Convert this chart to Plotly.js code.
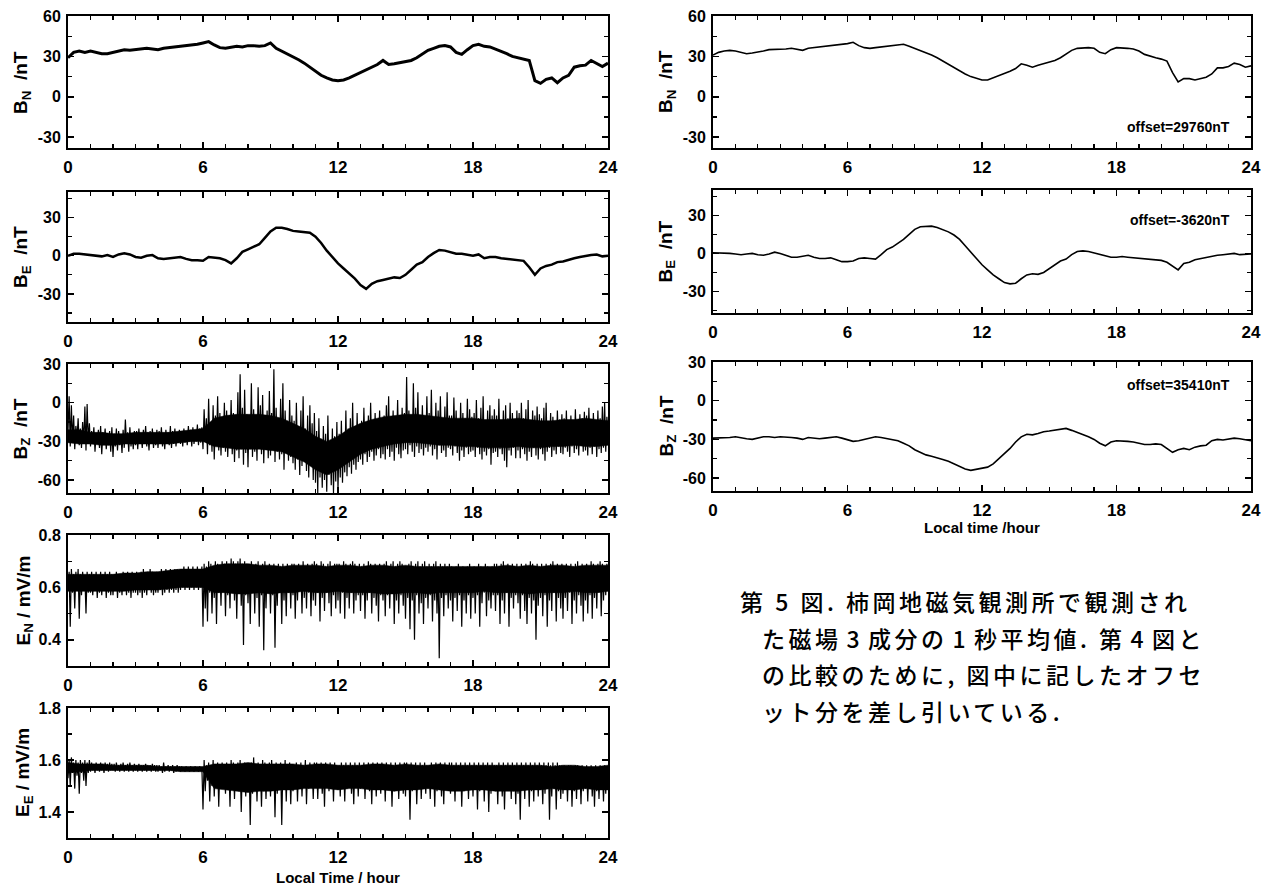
<!DOCTYPE html>
<html><head><meta charset="utf-8">
<script src="https://cdn.plot.ly/plotly-3.0.1.min.js"></script>
<style>
html,body{margin:0;padding:0;background:#fff;}
#chart{width:1273px;height:886px;}
.annotation-text[style*="CJK"]{letter-spacing:3.5px;}
</style>
</head><body><div id="chart"></div>
<script>
// ---------- tick labels ----------
const hourTicks = [0, 6, 12, 18, 24];
const hourLabels = ['0', '6', '12', '18', '24'];
const bnTicks = [-30, 0, 30, 60];
const bnLabels = ['-30', '0', '30', '60'];
const beTicks = [-30, 0, 30];
const beLabels = ['-30', '0', '30'];
const bzTicks = [-60, -30, 0, 30];
const bzLabels = ['-60', '-30', '0', '30'];
const eyTicks = [0.4, 0.6, 0.8];
const eyLabels = ['0.4', '0.6', '0.8'];
const eeTicks = [1.4, 1.6, 1.8];
const eeLabels = ['1.4', '1.6', '1.8'];

// ---------- smooth series, sampled every 0.25 h (0 .. 24) ----------
const bnLeft = [
 29,33,34,33, 34,33,32,32, 33,34,35,34.5, 35,35.5,36,35.5, 35,36,36.5,37, 37,37.5,38,39,
 40,41,38.5,36.5, 36,37,37.5,37, 38,38,37.5,38, 40,36,34,32, 30,27.5,25,22, 19,16,14,12.5,
 12,12.5,14,16, 17.5,19.5,21.5,24, 27,24,24.5,25.5, 26,27,29,32, 34.5,36,37.5,38, 37,33,31.5,35,
 38,39,37.5,37, 35.5,34,32,30, 29,28.5,27,12, 10,13,14,10.5, 14,16,22,23, 23.5,27,25,22.5, 25];
const beLeft = [
 0,1.5,1.5,1, 1,0,-0.5,0.5, -1,1,2,1, -1,-1.5,0,0.5, -2,-2.5,-2,-1, -1,-2.5,-3.5,-3.5,
 -4,-1,-1.5,-2, -3.5,-6,-2,3, 5,7,9,14, 19,22,22,21, 19.5,19,18.5,18, 15,10,4,-1,
 -6,-10,-14,-18, -23,-26,-22,-20, -19,-18,-17,-17.5, -15,-11,-7,-5, -1,2,4.5,4, 3,1.5,1.5,0.5,
 0,1,-2,-1, -1,-2,-2.5,-2.5, -3.5,-4,-9,-15, -10,-8,-7,-5, -4.5,-3,-2,-1, 0,0.5,1,-0.5, 0];
const bnRight = [
 31,33,34,34.5, 34,33,32,32.5, 33,34,35,35, 35.5,35.5,36,35.5, 34.5,36,36.5,36.5, 37,37.5,38,39,
 39.5,40.5,38,36.5, 36,36.5,37,37.5, 38,38.5,39,37.5, 36,34.5,33,31, 29,26.5,24,21.5, 19,17,15,13.5,
 12.5,12.5,14,16, 17.5,19,21,24.5, 23.5,22,23.5,24.5, 25.5,27,29,32, 34.5,36,36.5,36.5, 36,33,32,35,
 36.5,36.5,36,35.5, 34,31.5,30,29, 28,26.5,18,11, 13.5,13.5,12.5,13.5, 14.5,17,21.5,21.5, 22.5,25,24,22, 23];
const beRight = [
 0.5,0.5,0.5,0, -0.5,-1,-0.5,0, -1,-1.5,-0.5,1, 0,-1.5,-3,-3, -2,-1.5,-3,-4, -4,-3.5,-5,-6.5,
 -6.5,-6,-4,-3.5, -4,-4.5,-1,3, 5,8,11,15, 19,21,21.5,21.5, 20.5,19,17,14.5, 11,6,1,-4,
 -9,-13,-17,-20, -23,-24,-23.5,-20, -17,-16,-16.5,-15, -12,-9,-6,-4.5, -1,1.5,2,1.5, 0.5,-0.5,-2,-3,
 -3,-2.5,-3,-3.5, -3.5,-4.5,-4.5,-5, -5.5,-7,-10,-13, -8,-7,-5,-4, -3.5,-2.5,-1.5,-1, -0.5,0,-1,-0.5, -0.5];
const bzRight = [
 -29,-29,-28.5,-28.5, -28,-29,-29.5,-30, -29,-28,-28,-28.5, -28,-28,-28.5,-29, -30,-28.5,-29,-29.5, -29,-28.5,-28,-29,
 -30,-31.5,-31,-30, -29,-28,-28.5,-29.5, -30,-31,-33,-35, -38,-40,-42,-43, -44,-45.5,-47,-49, -51,-53,-54,-53,
 -52.5,-51.5,-49,-45, -41,-37,-32,-28, -26,-26.5,-25.5,-24, -23.5,-23,-22.5,-21.5, -23,-24.5,-26,-28, -30,-33,-35,-32,
 -31,-31,-31.5,-32, -33,-34,-34,-33.5, -34,-37,-40,-38, -37,-38,-36,-35, -34.5,-31,-30,-30.5, -30,-29,-29.5,-30, -31];

// ---------- noisy series, every 0.05 h, alternating trough / crest (one row per hour) ----------
const bzLeft = [
 -22,5,-34,-2,-30,-10,-36,-18,-28,-12,-33,-20,-35,-15,-31,-3,-37,-1,-30,-16,
 -34,-22,-30,-19,-38,-24,-32,-21,-35,-18,-40,-23,-31,-20,-36,-25,-33,-22,-38,-19,
 -42,-24,-34,-20,-37,-22,-33,-25,-39,-21,-35,-13,-31,-23,-38,-19,-34,-24,-36,-22,
 -33,-22,-36,-20,-32,-24,-35,-21,-31,-18,-34,-23,-37,-22,-32,-20,-35,-25,-33,-21,
 -35,-22,-32,-19,-34,-24,-36,-21,-31,-23,-33,-18,-35,-22,-32,-20,-34,-24,-31,-21,
 -32,-22,-34,-20,-31,-23,-33,-18,-30,-21,-34,-19,-32,-24,-30,-17,-33,-20,-31,-19,
 -36,-5,-30,-12,-40,3,-33,-15,-38,-2,-44,-10,-32,5,-37,-8,-41,-14,-35,0,
 -38,-6,-42,-12,-35,2,-40,-8,-46,-15,-37,8,-43,22,-36,-4,-48,10,-39,-9,
 -50,-10,-36,15,-42,-5,-38,-14,-45,12,-34,-2,-40,6,-47,-12,-36,-6,-43,9,
 -41,-8,-35,26,-46,-4,-38,-12,-44,3,-40,15,-52,-6,-37,-14,-45,2,-42,-10,
 -47,-14,-52,0,-44,-18,-56,-6,-49,5,-45,-20,-53,-10,-58,-2,-48,-16,-60,-8,
 -62,-22,-70,-12,-58,-28,-66,-18,-60,-24,-69,-10,-56,-30,-64,-20,-70,-26,-61,-15,
 -68,-24,-58,-14,-62,-28,-54,-6,-57,-20,-50,-12,-55,0,-48,-18,-52,-8,-46,-22,
 -44,-14,-48,-4,-40,-18,-46,-10,-42,0,-38,-16,-45,-8,-41,-20,-36,-6,-43,-12,
 -40,-10,-44,-2,-36,5,-42,-14,-38,-6,-45,-12,-35,2,-40,-16,-43,-4,-37,-8,
 -36,20,-40,-6,-33,-12,-38,15,-42,-4,-34,8,-39,-10,-36,-2,-41,-14,-35,5,
 -38,-8,-34,10,-41,-12,-36,0,-44,-6,-33,5,-39,-14,-37,-3,-42,8,-35,-10,
 -36,-10,-41,4,-34,-6,-39,-14,-45,0,-37,-8,-42,-12,-35,3,-40,-5,-38,-11,
 -37,-8,-42,2,-35,-12,-40,-4,-44,5,-38,-14,-41,-6,-36,-2,-48,-10,-39,-5,
 -38,-10,-42,3,-36,-14,-40,-6,-45,-2,-50,-12,-37,0,-41,-8,-35,-13,-43,-6,
 -37,-8,-43,0,-36,-12,-40,-5,-45,2,-38,-14,-42,-6,-35,-10,-41,-3,-44,-9,
 -36,-12,-40,-4,-45,0,-38,-15,-35,-8,-42,-11,-37,-16,-40,-6,-34,-13,-39,-9,
 -40,-12,-35,-6,-38,-16,-42,-10,-34,-14,-39,-5,-36,-18,-41,-9,-33,-12,-38,-7,
 -37,-10,-41,-4,-35,-14,-40,-8,-34,-16,-42,-6,-36,-12,-39,-3,-35,0,-38,-11,
 -24];
const eyLeft = [
 0.60,0.66,0.45,0.67,0.58,0.65,0.52,0.66,0.59,0.67,0.48,0.65,0.57,0.66,0.60,0.64,0.50,0.66,0.58,0.65,
 0.58,0.66,0.57,0.65,0.59,0.66,0.56,0.64,0.58,0.66,0.57,0.65,0.59,0.66,0.56,0.65,0.58,0.66,0.57,0.65,
 0.57,0.65,0.59,0.66,0.56,0.65,0.58,0.64,0.57,0.66,0.59,0.65,0.57,0.66,0.58,0.65,0.56,0.66,0.58,0.65,
 0.58,0.66,0.57,0.65,0.58,0.66,0.56,0.67,0.58,0.65,0.57,0.66,0.59,0.67,0.58,0.66,0.57,0.65,0.58,0.66,
 0.58,0.66,0.59,0.67,0.57,0.66,0.58,0.67,0.59,0.66,0.58,0.67,0.59,0.66,0.58,0.67,0.59,0.67,0.58,0.66,
 0.59,0.67,0.60,0.68,0.59,0.67,0.60,0.68,0.59,0.67,0.60,0.68,0.59,0.67,0.60,0.68,0.59,0.67,0.60,0.68,
 0.45,0.69,0.52,0.68,0.47,0.70,0.58,0.69,0.50,0.68,0.56,0.70,0.46,0.69,0.58,0.68,0.53,0.70,0.59,0.69,
 0.49,0.70,0.57,0.69,0.52,0.71,0.59,0.70,0.55,0.69,0.48,0.70,0.58,0.71,0.53,0.69,0.38,0.70,0.57,0.69,
 0.54,0.69,0.46,0.70,0.58,0.68,0.50,0.69,0.56,0.70,0.45,0.68,0.57,0.69,0.36,0.70,0.52,0.68,0.58,0.69,
 0.50,0.68,0.57,0.69,0.37,0.67,0.53,0.69,0.58,0.68,0.46,0.69,0.55,0.67,0.49,0.69,0.58,0.68,0.52,0.69,
 0.57,0.69,0.48,0.68,0.55,0.69,0.59,0.68,0.50,0.70,0.56,0.68,0.52,0.69,0.58,0.68,0.49,0.69,0.55,0.70,
 0.53,0.69,0.58,0.68,0.47,0.70,0.56,0.69,0.51,0.68,0.58,0.69,0.54,0.70,0.49,0.68,0.57,0.69,0.52,0.69,
 0.55,0.69,0.50,0.68,0.58,0.70,0.48,0.69,0.56,0.68,0.52,0.69,0.58,0.70,0.50,0.69,0.55,0.68,0.57,0.69,
 0.51,0.68,0.57,0.69,0.48,0.68,0.55,0.70,0.58,0.69,0.50,0.68,0.56,0.69,0.53,0.68,0.47,0.69,0.57,0.68,
 0.55,0.69,0.49,0.70,0.57,0.68,0.52,0.69,0.58,0.70,0.46,0.68,0.55,0.69,0.50,0.70,0.57,0.69,0.53,0.68,
 0.48,0.68,0.56,0.69,0.44,0.70,0.55,0.68,0.40,0.69,0.57,0.70,0.50,0.68,0.54,0.69,0.46,0.70,0.56,0.68,
 0.52,0.69,0.57,0.68,0.47,0.69,0.55,0.70,0.50,0.68,0.33,0.69,0.56,0.68,0.49,0.69,0.57,0.68,0.52,0.69,
 0.55,0.68,0.47,0.67,0.56,0.68,0.51,0.69,0.57,0.67,0.45,0.68,0.55,0.67,0.50,0.68,0.57,0.69,0.48,0.67,
 0.56,0.68,0.50,0.67,0.57,0.69,0.45,0.68,0.54,0.67,0.58,0.69,0.49,0.68,0.55,0.67,0.52,0.68,0.57,0.69,
 0.51,0.69,0.57,0.68,0.46,0.69,0.55,0.70,0.50,0.68,0.58,0.69,0.45,0.68,0.56,0.69,0.52,0.68,0.57,0.69,
 0.54,0.68,0.48,0.69,0.57,0.68,0.51,0.69,0.46,0.68,0.56,0.70,0.50,0.69,0.55,0.68,0.40,0.69,0.53,0.68,
 0.56,0.69,0.49,0.68,0.57,0.69,0.45,0.68,0.55,0.69,0.51,0.70,0.58,0.68,0.47,0.69,0.56,0.68,0.52,0.69,
 0.48,0.68,0.56,0.69,0.51,0.68,0.58,0.69,0.46,0.68,0.55,0.69,0.50,0.70,0.57,0.68,0.53,0.69,0.47,0.68,
 0.55,0.69,0.50,0.68,0.57,0.70,0.48,0.69,0.56,0.68,0.52,0.69,0.58,0.70,0.49,0.69,0.55,0.68,0.57,0.69,
 0.63];
const eeLeft = [
 1.53,1.60,1.50,1.61,1.55,1.59,1.49,1.60,1.54,1.59,1.47,1.60,1.55,1.59,1.52,1.60,1.50,1.59,1.55,1.60,
 1.555,1.59,1.56,1.585,1.55,1.59,1.56,1.58,1.555,1.59,1.56,1.585,1.55,1.59,1.56,1.585,1.555,1.59,1.56,1.585,
 1.56,1.585,1.555,1.59,1.56,1.58,1.555,1.585,1.56,1.59,1.555,1.58,1.56,1.585,1.555,1.59,1.56,1.58,1.555,1.585,
 1.56,1.58,1.555,1.585,1.56,1.58,1.555,1.58,1.56,1.585,1.555,1.58,1.56,1.58,1.555,1.585,1.56,1.58,1.555,1.58,
 1.555,1.58,1.56,1.575,1.55,1.59,1.555,1.575,1.56,1.58,1.555,1.575,1.56,1.58,1.55,1.575,1.555,1.58,1.56,1.575,
 1.555,1.575,1.56,1.57,1.555,1.575,1.56,1.57,1.555,1.575,1.56,1.57,1.555,1.575,1.56,1.57,1.555,1.575,1.56,1.57,
 1.41,1.60,1.48,1.58,1.52,1.59,1.44,1.58,1.50,1.60,1.46,1.58,1.53,1.59,1.42,1.58,1.49,1.59,1.51,1.58,
 1.47,1.59,1.52,1.58,1.42,1.60,1.50,1.59,1.45,1.58,1.51,1.59,1.48,1.60,1.40,1.58,1.50,1.59,1.46,1.58,
 1.49,1.58,1.35,1.59,1.47,1.61,1.51,1.58,1.44,1.59,1.50,1.58,1.42,1.60,1.48,1.59,1.45,1.58,1.51,1.59,
 1.46,1.60,1.50,1.58,1.38,1.59,1.47,1.58,1.52,1.59,1.35,1.58,1.49,1.60,1.44,1.58,1.50,1.59,1.43,1.58,
 1.48,1.58,1.51,1.59,1.44,1.58,1.50,1.59,1.46,1.58,1.52,1.60,1.43,1.58,1.49,1.59,1.51,1.58,1.45,1.59,
 1.50,1.59,1.45,1.58,1.51,1.59,1.47,1.58,1.42,1.59,1.50,1.58,1.48,1.59,1.52,1.58,1.44,1.59,1.49,1.58,
 1.51,1.58,1.46,1.59,1.50,1.58,1.44,1.59,1.49,1.58,1.52,1.59,1.47,1.58,1.43,1.59,1.50,1.58,1.46,1.59,
 1.49,1.58,1.52,1.59,1.45,1.58,1.50,1.59,1.48,1.58,1.43,1.59,1.51,1.58,1.46,1.59,1.50,1.58,1.47,1.59,
 1.50,1.58,1.44,1.59,1.49,1.58,1.51,1.59,1.42,1.58,1.48,1.59,1.50,1.58,1.45,1.59,1.51,1.58,1.47,1.59,
 1.46,1.59,1.50,1.58,1.37,1.59,1.48,1.58,1.51,1.59,1.43,1.58,1.49,1.59,1.45,1.58,1.50,1.59,1.47,1.58,
 1.49,1.58,1.45,1.59,1.51,1.58,1.42,1.59,1.48,1.58,1.50,1.59,1.46,1.58,1.43,1.59,1.49,1.58,1.51,1.59,
 1.47,1.59,1.50,1.58,1.44,1.59,1.49,1.58,1.52,1.59,1.42,1.58,1.48,1.59,1.50,1.58,1.45,1.59,1.49,1.58,
 1.46,1.59,1.50,1.58,1.41,1.59,1.48,1.58,1.51,1.59,1.44,1.58,1.49,1.59,1.40,1.58,1.47,1.59,1.50,1.58,
 1.48,1.58,1.43,1.59,1.50,1.58,1.46,1.59,1.41,1.58,1.49,1.59,1.51,1.58,1.45,1.59,1.48,1.58,1.43,1.59,
 1.47,1.58,1.37,1.59,1.49,1.58,1.45,1.59,1.50,1.58,1.42,1.59,1.48,1.58,1.44,1.59,1.50,1.58,1.46,1.59,
 1.49,1.58,1.43,1.59,1.47,1.58,1.50,1.59,1.37,1.58,1.46,1.59,1.49,1.58,1.41,1.59,1.48,1.58,1.45,1.58,
 1.47,1.58,1.50,1.57,1.44,1.58,1.49,1.58,1.42,1.57,1.48,1.58,1.45,1.58,1.50,1.57,1.43,1.58,1.48,1.57,
 1.49,1.58,1.44,1.57,1.50,1.58,1.46,1.57,1.42,1.58,1.48,1.57,1.45,1.58,1.50,1.57,1.44,1.58,1.47,1.57,
 1.53];

// dense core of the noisy series, every 0.5 h (0 .. 24)
const bzCoreLo = [-31,-32,-32,-33,-33,-32,-32,-32,-32,-32,-31,-30, -30,
 -34,-35,-36,-36,-36,-37,-38, -42,-46,-52,-56,-52, -46,-40,-36,-34, -32,-31,-31,-32, -33,-33,-34,-34,
 -35,-35,-35,-34, -35,-35,-34,-34, -33,-34,-34,-33];
const bzCoreHi = [-21,-21,-23,-23,-24,-24,-23,-23,-23,-23,-22,-21, -20,
 -12,-10,-9,-9,-9,-10,-12, -16,-20,-26,-30,-26, -20,-16,-13,-11, -10,-9,-9,-10, -11,-12,-12,-12,
 -13,-13,-13,-12, -13,-14,-14,-13, -13,-12,-13,-14];
const eyCoreLo = [0.585,0.585,0.585,0.585,0.585,0.585,0.59,0.59,0.59,0.595,0.60,0.60, 0.60,
 0.58,0.58,0.575,0.575,0.58,0.575,0.58,0.58,0.585,0.58,0.58,0.585,0.58,0.58,0.58,0.575,0.575,0.58,
 0.58,0.575,0.58,0.58,0.58,0.58,0.585,0.58,0.58,0.58,0.575,0.58,0.58,0.58,0.585,0.58,0.58,0.585];
const eyCoreHi = [0.65,0.65,0.65,0.65,0.65,0.655,0.655,0.66,0.66,0.665,0.67,0.67, 0.67,
 0.685,0.69,0.69,0.69,0.685,0.685,0.68,0.685,0.685,0.685,0.68,0.685,0.685,0.68,0.685,0.685,0.68,0.685,
 0.68,0.68,0.68,0.68,0.68,0.68,0.68,0.68,0.685,0.68,0.685,0.68,0.685,0.685,0.68,0.685,0.685,0.685];
const eeCoreLo = [1.55,1.555,1.56,1.56,1.56,1.56,1.56,1.56,1.56,1.56,1.555,1.555, 1.555,
 1.49,1.485,1.48,1.475,1.48,1.48,1.485,1.485,1.49,1.49,1.49,1.485,1.49,1.49,1.485,1.485,1.48,1.485,
 1.485,1.49,1.485,1.48,1.48,1.485,1.485,1.48,1.48,1.48,1.485,1.485,1.49,1.485,1.485,1.49,1.485,1.485];
const eeCoreHi = [1.59,1.585,1.585,1.585,1.58,1.58,1.58,1.58,1.575,1.575,1.575,1.575, 1.575,
 1.585,1.585,1.585,1.59,1.585,1.585,1.585,1.585,1.58,1.585,1.585,1.58,1.58,1.58,1.585,1.585,1.58,1.585,
 1.58,1.58,1.585,1.58,1.58,1.58,1.58,1.58,1.58,1.58,1.58,1.58,1.575,1.58,1.58,1.575,1.575,1.58];

// ---------- texts ----------
const yTitles = ['B<sub>N</sub>  /nT','B<sub>E</sub>  /nT','B<sub>Z</sub>  /nT','E<sub>N</sub> / mV/m','E<sub>E</sub> / mV/m','B<sub>N</sub>  /nT','B<sub>E</sub>  /nT','B<sub>Z</sub>  /nT'];
const offsetTexts = ['offset=29760nT','offset=-3620nT','offset=35410nT'];
const xTitleLeft = 'Local Time / hour';
const xTitleRight = 'Local time /hour';
const captionLines = [
 '第 5 図. 柿岡地磁気観測所で観測され',
 'た磁場\u200A3\u200A成分の\u200A1\u200A秒平均値. 第\u200A4\u200A図と',
 'の比較のために, 図中に記したオフセ',
 'ット分を差し引いている.'
];

// ---------- sampling grids ----------
const quarterHours = Array.from({length: 97}, (_, i) => i * 0.25);
const twentiethHours = Array.from({length: 481}, (_, i) => i / 20);
const halfHours = Array.from({length: 49}, (_, i) => i / 2);

// ---------- layout ----------
const W = 1273, H = 886;
const FONT = 'Liberation Sans, Arial, Helvetica, sans-serif';
const px = v => v / W;
const py = v => 1 - v / H;

const panels = [
 {x:[68,608],  y:[16,148],  r:[-38,60],  tv:bnTicks, tt:bnLabels, mn:15,  tx:22},
 {x:[68,608],  y:[192,322], r:[-52,50],  tv:beTicks, tt:beLabels, mn:15,  tx:22},
 {x:[68,608],  y:[364,493], r:[-70,30],  tv:bzTicks, tt:bzLabels, mn:15,  tx:22},
 {x:[68,608],  y:[535,666], r:[0.3,0.8], tv:eyTicks, tt:eyLabels, mn:0.1, tx:24},
 {x:[68,608],  y:[708,838], r:[1.3,1.8], tv:eeTicks, tt:eeLabels, mn:0.1, tx:24},
 {x:[713,1251],y:[16,148],  r:[-38,60],  tv:bnTicks, tt:bnLabels, mn:15,  tx:667},
 {x:[713,1251],y:[190,313], r:[-47,50],  tv:beTicks, tt:beLabels, mn:15,  tx:667},
 {x:[713,1251],y:[362,491], r:[-70,30],  tv:bzTicks, tt:bzLabels, mn:15,  tx:667}
];

const layout = {
 width: W, height: H, margin: {l:0, r:0, t:0, b:0},
 paper_bgcolor: '#fff', plot_bgcolor: '#fff', showlegend: false,
 annotations: []
};

panels.forEach((p, i) => {
 const n = i === 0 ? '' : String(i + 1);
 layout['xaxis' + n] = {
  domain: [px(p.x[0]), px(p.x[1])], range: [0, 24], anchor: 'y' + n,
  tickmode: 'array', tickvals: hourTicks, ticktext: hourLabels,
  ticks: 'inside', ticklen: 6, tickwidth: 1.5, tickcolor: '#000',
  minor: {tickmode: 'linear', tick0: 0, dtick: 1, ticks: 'inside', ticklen: 4, tickwidth: 1.2, tickcolor: '#000'},
  showline: true, linewidth: 2, linecolor: '#000', mirror: 'ticks',
  showgrid: false, zeroline: false, fixedrange: true,
  tickfont: {family: FONT, size: 17, color: '#000', weight: 'bold'},
  ticklabelstandoff: 3
 };
 layout['yaxis' + n] = {
  domain: [py(p.y[1]), py(p.y[0])], range: p.r, anchor: 'x' + n,
  tickmode: 'array', tickvals: p.tv, ticktext: p.tt,
  ticks: 'inside', ticklen: 6, tickwidth: 1.5, tickcolor: '#000',
  minor: {tickmode: 'linear', tick0: 0, dtick: p.mn, ticks: 'inside', ticklen: 4, tickwidth: 1.2, tickcolor: '#000'},
  showline: true, linewidth: 2, linecolor: '#000', mirror: 'ticks',
  showgrid: false, zeroline: false, fixedrange: true,
  tickfont: {family: FONT, size: 16, color: '#000', weight: 'bold'},
  ticklabelstandoff: 2
 };
 layout.annotations.push({
  xref: 'paper', yref: 'paper', x: px(p.tx), y: py((p.y[0] + p.y[1]) / 2),
  xanchor: 'center', yanchor: 'middle', textangle: -90, showarrow: false,
  text: yTitles[i], font: {family: FONT, size: 19, color: '#000', weight: 'bold'}
 });
});

// offset notes (right column)
const offsetY = [127, 220, 385];
offsetTexts.forEach((t, k) => {
 layout.annotations.push({
  xref: 'paper', yref: 'paper', x: px(1232), y: py(offsetY[k]), xanchor: 'right', yanchor: 'middle',
  showarrow: false, text: t,
  font: {family: FONT, size: 14, color: '#000', weight: 'bold'}
 });
});

// x-axis titles
layout.annotations.push({xref:'paper', yref:'paper', x: px(338), y: py(877), xanchor:'center', yanchor:'middle',
 showarrow:false, text: xTitleLeft, font:{family: FONT, size: 15, color:'#000', weight:'bold'}});
layout.annotations.push({xref:'paper', yref:'paper', x: px(982), y: py(527), xanchor:'center', yanchor:'middle',
 showarrow:false, text: xTitleRight, font:{family: FONT, size: 15, color:'#000', weight:'bold'}});

// caption
const capX = [738, 760, 760, 760];
const capY = [601, 638, 674, 711];
captionLines.forEach((t, k) => {
 layout.annotations.push({xref:'paper', yref:'paper', x: px(capX[k]), y: py(capY[k]), xanchor:'left', yanchor:'middle',
  showarrow:false, text: t, font:{family:'Noto Sans CJK JP, sans-serif', size: 23, color:'#000', weight: 500}});
});

// ---------- traces ----------
const band = (lo, hi, ax, ay) => ({
 x: halfHours.concat(halfHours.slice().reverse()),
 y: hi.concat(lo.slice().reverse()),
 xaxis: ax, yaxis: ay, mode: 'lines', fill: 'toself', fillcolor: '#000',
 line: {width: 0.5, color: '#000'}, hoverinfo: 'skip'
});
const line = (xs, ys, ax, ay, w) => ({
 x: xs, y: ys, xaxis: ax, yaxis: ay, mode: 'lines',
 line: {color: '#000', width: w}, hoverinfo: 'skip'
});

const data = [
 line(quarterHours, bnLeft, 'x', 'y', 3),
 line(quarterHours, beLeft, 'x2', 'y2', 2.5),
 band(bzCoreLo, bzCoreHi, 'x3', 'y3'),
 line(twentiethHours, bzLeft, 'x3', 'y3', 1.2),
 band(eyCoreLo, eyCoreHi, 'x4', 'y4'),
 line(twentiethHours, eyLeft, 'x4', 'y4', 1.2),
 band(eeCoreLo, eeCoreHi, 'x5', 'y5'),
 line(twentiethHours, eeLeft, 'x5', 'y5', 1.2),
 line(quarterHours, bnRight, 'x6', 'y6', 1.6),
 line(quarterHours, beRight, 'x7', 'y7', 1.6),
 line(quarterHours, bzRight, 'x8', 'y8', 1.6)
];

Plotly.newPlot('chart', data, layout, {displayModeBar: false, staticPlot: true});
</script>
</body></html>
